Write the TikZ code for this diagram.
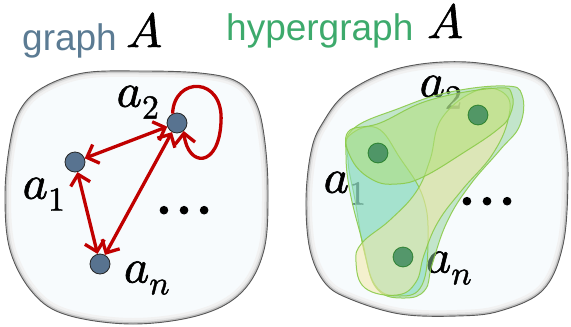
\documentclass[tikz,border=0pt]{standalone}
\usepackage{fontspec}
\usepackage{unicode-math}
\setmainfont{Liberation Sans}
\setmathfont{Latin Modern Math}[FakeBold=1.3]
\usetikzlibrary{arrows.meta}
\definecolor{slate}{HTML}{5B7B93}
\definecolor{hgreen}{HTML}{3DAA6C}
\definecolor{nodeblue}{HTML}{587390}
\definecolor{dred}{HTML}{C00000}
\definecolor{blobfill}{HTML}{F7FBFD}
\definecolor{edgeline}{HTML}{8CCB4A}
\definecolor{hnode}{HTML}{3F8A5E}
\definecolor{ecyan}{HTML}{8EE0D2}
\definecolor{eyellow}{HTML}{F2E8A8}
\definecolor{elgreen}{HTML}{B2E07A}
\definecolor{emgreen}{HTML}{8ED09A}
\tikzset{
  titletext/.style={font=\fontsize{37}{40}\selectfont, inner sep=0pt, anchor=base west},
  bigmath/.style={font=\fontsize{48}{50}\selectfont, inner sep=0pt},
  dotstext/.style={font=\fontsize{72}{74}\selectfont, inner sep=0pt, anchor=base},
  gnode/.style={circle, minimum size=20pt, inner sep=0pt, fill=nodeblue, draw=black!85, line width=0.8pt},
  hgnode/.style={circle, minimum size=20pt, inner sep=0pt, fill=hnode, fill opacity=0.85, draw=black!60!green, draw opacity=0.6, line width=0.8pt},
  redarrow/.style={draw=dred, line width=3.3pt, {Straight Barb[length=10pt,width=20pt]}-{Straight Barb[length=10pt,width=20pt]}},
  redloop/.style={draw=dred, line width=3.3pt, -{Straight Barb[length=10pt,width=20pt]}},
  hedge/.style={draw=edgeline, line width=1pt, fill opacity=#1, draw opacity=0.9},
  blobrim/.style={line width=#1},
}
\begin{document}
\begin{tikzpicture}[x=1pt,y=-1pt]
\useasboundingbox (0,0) rectangle (571,327);
% titles
\node[titletext, text=slate] (t1) at (22,50) {graph};
\node[bigmath, anchor=base west] (tA1) at (126,47) {$A$};
\node[titletext, text=hgreen] (t2) at (226,40) {hypergraph};
\node[bigmath, anchor=base west] (tA2) at (427,38) {$A$};
% left blob
\def\leftblob{plot[smooth cycle, tension=0.6] coordinates {(83,73) (140,71) (200,73) (236,81) (255,101) (264,135) (268,190) (264,250) (242,292) (200,315) (133,324) (67,315) (33,293) (10,250) (5,195) (10,143) (20,110) (42,88)}}
\fill[blobfill] \leftblob;
\begin{scope}
\clip \leftblob;
\draw[line width=12pt, black!5] \leftblob;
\draw[line width=7pt, black!10] \leftblob;
\draw[line width=3.5pt, black!25] \leftblob;
\end{scope}
\draw[black!65, line width=0.9pt] \leftblob;
% right blob
\def\rightblob{plot[smooth cycle, tension=0.6] coordinates {(400,68) (467,62) (533,75) (555,98) (565,135) (568,180) (563,245) (543,290) (500,311) (457,316) (400,314) (350,299) (325,283) (310,250) (306,200) (311,152) (322,124) (348,92)}}
\fill[blobfill] \rightblob;
\begin{scope}
\clip \rightblob;
\draw[line width=12pt, black!5] \rightblob;
\draw[line width=7pt, black!10] \rightblob;
\draw[line width=3.5pt, black!25] \rightblob;
\end{scope}
\draw[black!65, line width=0.9pt] \rightblob;
% left graph
\node[gnode] (a2) at (177,123) {};
\node[gnode] (a1) at (75,162) {};
\node[gnode] (an) at (100,264) {};
\node[bigmath] (la2) at (138,102) {$a_2$};
\node[bigmath] (la1) at (44,194) {$a_1$};
\node[bigmath] (lan) at (147,278) {$a_n$};
\node[dotstext] (dots1) at (190,214) {$\dots$};
\draw[redarrow] (a1) -- (a2);
\draw[redarrow] (a1) -- (an);
\draw[redarrow] (a2) -- (an);
\draw[redloop] (a2.115) .. controls (174,76) and (224,76) .. (221,122) .. controls (219,168) and (188,168) .. (a2.-50);
% right hypergraph labels (under hyperedges)
\node[bigmath] (lb2) at (441,92) {$a_2$};
\node[bigmath] (lb1) at (345,188) {$a_1$};
\node[bigmath] (lbn) at (449,268) {$a_n$};
\node[dotstext] (dots2) at (493,205) {$\dots$};
% hyperedges
\path[hedge=0.5, fill=emgreen] plot[smooth cycle, tension=0.7] coordinates {(352,130) (400,108) (450,92) (505,86) (522,95) (520,125) (500,150) (470,185) (447,222) (432,265) (425,290) (405,298) (378,290) (365,255) (355,200) (348,160)};
\path[hedge=0.55, fill=ecyan] plot[smooth cycle, tension=0.7] coordinates {(350,135) (377,128) (400,158) (423,197) (428,240) (422,285) (400,296) (375,285) (362,240) (350,192) (346,155)};
\path[hedge=0.55, fill=eyellow] plot[smooth cycle, tension=0.7] coordinates {(478,90) (506,95) (508,120) (492,155) (462,190) (438,222) (424,255) (416,282) (397,295) (365,288) (356,262) (362,243) (390,220) (416,192) (430,160) (442,118)};
\path[hedge=0.55, fill=elgreen] plot[smooth cycle, tension=0.7] coordinates {(348,132) (380,123) (430,100) (497,88) (512,95) (510,115) (497,130) (463,153) (423,177) (397,184) (373,180) (352,160)};
\node[hgnode] (b2) at (478,115) {};
\node[hgnode] (b1) at (378,153) {};
\node[hgnode] (bn) at (403,257) {};
\end{tikzpicture}
\end{document}
